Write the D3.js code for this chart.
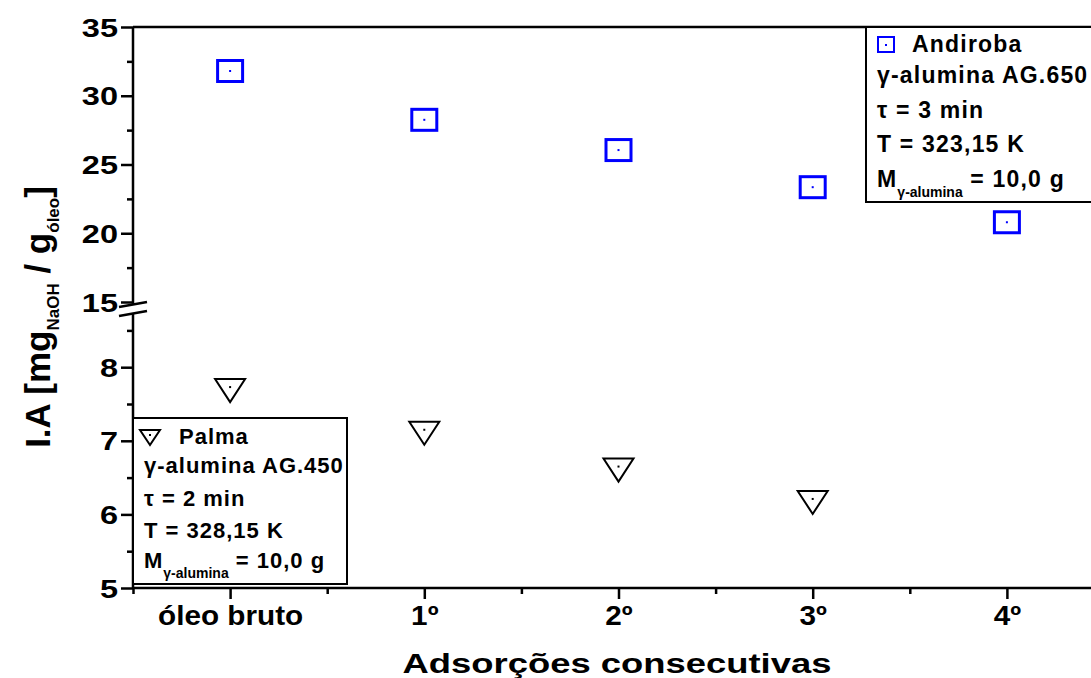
<!DOCTYPE html>
<html><head><meta charset="utf-8">
<script src="https://cdn.jsdelivr.net/npm/d3@7"></script>
<style>
body{margin:0;background:#fff;}
text{font-family:"Liberation Sans",Arial,sans-serif;font-weight:bold;fill:#000;}
</style></head>
<body><svg id="c" width="1091" height="678"></svg>
<script>
const categories = ["óleo bruto","1º","2º","3º","4º"];
const andiroba = [31.8, 28.25, 26.05, 23.35, 20.8];
const palma = [7.73, 7.15, 6.65, 6.21];
const upperTicks = [15,20,25,30,35];
const upperMinor = [17.5,22.5,27.5,32.5];
const lowerTicks = [5,6,7,8];
const lowerMinor = [5.5,6.5,7.5,8.5];
const andirobaLegend = ["Andiroba","γ-alumina AG.650","τ = 3 min","T = 323,15 K"];
const palmaLegend = ["Palma","γ-alumina AG.450","τ = 2 min","T = 328,15 K"];
const massLabel = ["M","γ-alumina"," = 10,0 g"];

const svg = d3.select("#c");
const L = 133, B = 588, T = 27, W = 1091;
const x = d3.scaleLinear().domain([-0.5, 4.5]).range([L, 1104]);
const yU = d3.scaleLinear().domain([15, 35]).range([302, T]);
const yL = d3.scaleLinear().domain([5, 8.75]).range([B, 312]);

svg.append("line").attr("x1",L).attr("x2",W).attr("y1",T).attr("y2",T).attr("stroke","#000").attr("stroke-width",2.5);

function styleAxis(g){
  g.select(".domain").attr("stroke","#000").attr("stroke-width",2.5);
  g.selectAll(".tick line").attr("stroke","#000").attr("stroke-width",2.5);
}
const gU = svg.append("g").attr("transform",`translate(${L},0)`)
  .call(d3.axisLeft(yU).tickValues(upperTicks).tickSize(12).tickSizeOuter(0).tickPadding(0).tickFormat(d3.format("d")));
styleAxis(gU);
gU.select(".domain").attr("d",`M0,${T}V304`);
svg.append("g").attr("transform",`translate(${L},0)`)
  .call(d3.axisLeft(yU).tickValues(upperMinor).tickSize(6).tickSizeOuter(0).tickFormat(""))
  .call(g=>{g.select(".domain").remove();g.selectAll("line").attr("stroke","#000").attr("stroke-width",2.5);});
const gL = svg.append("g").attr("transform",`translate(${L},0)`)
  .call(d3.axisLeft(yL).tickValues(lowerTicks).tickSize(12).tickSizeOuter(0).tickPadding(0).tickFormat(d3.format("d")));
styleAxis(gL);
gL.select(".domain").attr("d",`M0,313V${B}`);
svg.append("g").attr("transform",`translate(${L},0)`)
  .call(d3.axisLeft(yL).tickValues(lowerMinor).tickSize(6).tickSizeOuter(0).tickFormat(""))
  .call(g=>{g.select(".domain").remove();g.selectAll("line").attr("stroke","#000").attr("stroke-width",2.5);});
[gU,gL].forEach(g=>g.selectAll(".tick text").attr("x",0).attr("dy",null)
  .attr("font-size",25).attr("text-anchor","end")
  .attr("transform","translate(-15,9) scale(1.3,1)").style("font-family",'"Liberation Sans",Arial,sans-serif').style("font-weight","bold"));

[0,9].forEach(o=>svg.append("line").attr("x1",119).attr("y1",307+o).attr("x2",147).attr("y2",302+o)
  .attr("stroke","#000").attr("stroke-width",2.5));

const gX = svg.append("g").attr("transform",`translate(0,${B})`)
  .call(d3.axisBottom(x).tickValues(d3.range(categories.length)).tickSize(11).tickSizeOuter(0).tickFormat(i=>categories[i]).tickPadding(0));
styleAxis(gX);
gX.select(".domain").attr("d",`M${L},0H${W}`);
gX.selectAll(".tick text").attr("y",0).attr("dy",null).attr("font-size",27)
  .attr("transform","translate(0,37) scale(1.1,1)").style("font-family",'"Liberation Sans",Arial,sans-serif').style("font-weight","bold");
svg.append("g").attr("transform",`translate(0,${B})`)
  .call(d3.axisBottom(x).tickValues(d3.range(-0.5,4.6,1)).tickSize(6).tickSizeOuter(0).tickFormat(""))
  .call(g=>{g.select(".domain").remove();g.selectAll("line").attr("stroke","#000").attr("stroke-width",2.5);});

svg.append("text").attr("font-size",28).attr("text-anchor","middle")
  .attr("transform",`translate(617,673) scale(1.3,1)`).text("Adsorções consecutivas");
const yt = svg.append("text").attr("font-size",35).attr("text-anchor","middle")
  .attr("transform","translate(50,317) rotate(-90)");
yt.append("tspan").text("I.A [mg");
yt.append("tspan").attr("font-size",17).attr("dy",9).text("NaOH");
yt.append("tspan").attr("dy",-9).text(" / g");
yt.append("tspan").attr("font-size",17).attr("dy",9).text("óleo");
yt.append("tspan").attr("dy",-9).text("]");

svg.append("g").selectAll("rect").data(andiroba).join("rect")
  .attr("x",(d,i)=>x(i)-12.5).attr("y",d=>yU(d)-10.5).attr("width",25).attr("height",21)
  .attr("fill","none").attr("stroke","#0000ff").attr("stroke-width",3);
svg.append("g").selectAll("rect").data(andiroba).join("rect")
  .attr("x",(d,i)=>x(i)-1).attr("y",d=>yU(d)-1).attr("width",2).attr("height",2).attr("fill","#0000ff");
const tri = (cx,cy,hw,up,dn)=>`M${cx-hw},${cy-up}L${cx+hw},${cy-up}L${cx},${cy+dn}Z`;
svg.append("g").selectAll("path").data(palma).join("path")
  .attr("d",(d,i)=>tri(x(i),yL(d),15,8,15))
  .attr("fill","none").attr("stroke","#000").attr("stroke-width",2);
svg.append("g").selectAll("rect").data(palma).join("rect")
  .attr("x",(d,i)=>x(i)-1).attr("y",d=>yL(d)-1).attr("width",2).attr("height",2).attr("fill","#000");

function legend(bx,by,bw,bh,lines,fs,ls,b0,b1,step,bm,iconFn){
  svg.append("rect").attr("x",bx).attr("y",by).attr("width",bw).attr("height",bh)
    .attr("fill","#fff").attr("stroke","#000").attr("stroke-width",2);
  iconFn();
  const tx = bx+11;
  svg.append("text").attr("font-size",fs).attr("letter-spacing",ls).attr("x",tx+35).attr("y",by+b0).text(lines[0]);
  lines.slice(1).forEach((s,i)=>svg.append("text").attr("font-size",fs).attr("letter-spacing",ls)
    .attr("x",tx).attr("y",by+b1+i*step).text(s));
  const m = svg.append("text").attr("font-size",fs).attr("letter-spacing",ls).attr("x",tx).attr("y",by+bm);
  m.append("tspan").text(massLabel[0]);
  m.append("tspan").attr("font-size",14).attr("letter-spacing",0).attr("dy",10).text(massLabel[1]);
  m.append("tspan").attr("dy",-10).text(massLabel[2]);
}
legend(866,T,260,175,andirobaLegend,23,1.2,25,56,34.5,160,()=>{
  svg.append("rect").attr("x",878).attr("y",37).attr("width",16).attr("height",15)
    .attr("fill","none").attr("stroke","#0000ff").attr("stroke-width",2);
  svg.append("rect").attr("x",885).attr("y",44).attr("width",2).attr("height",2).attr("fill","#0000ff");
});
legend(133,418,214,166,palmaLegend,22,1,26,55,32.5,150,()=>{
  svg.append("path").attr("d",tri(150,435,10,5,10)).attr("fill","none").attr("stroke","#000").attr("stroke-width",2);
  svg.append("rect").attr("x",149).attr("y",434).attr("width",2).attr("height",2).attr("fill","#000");
});
</script></body></html>
